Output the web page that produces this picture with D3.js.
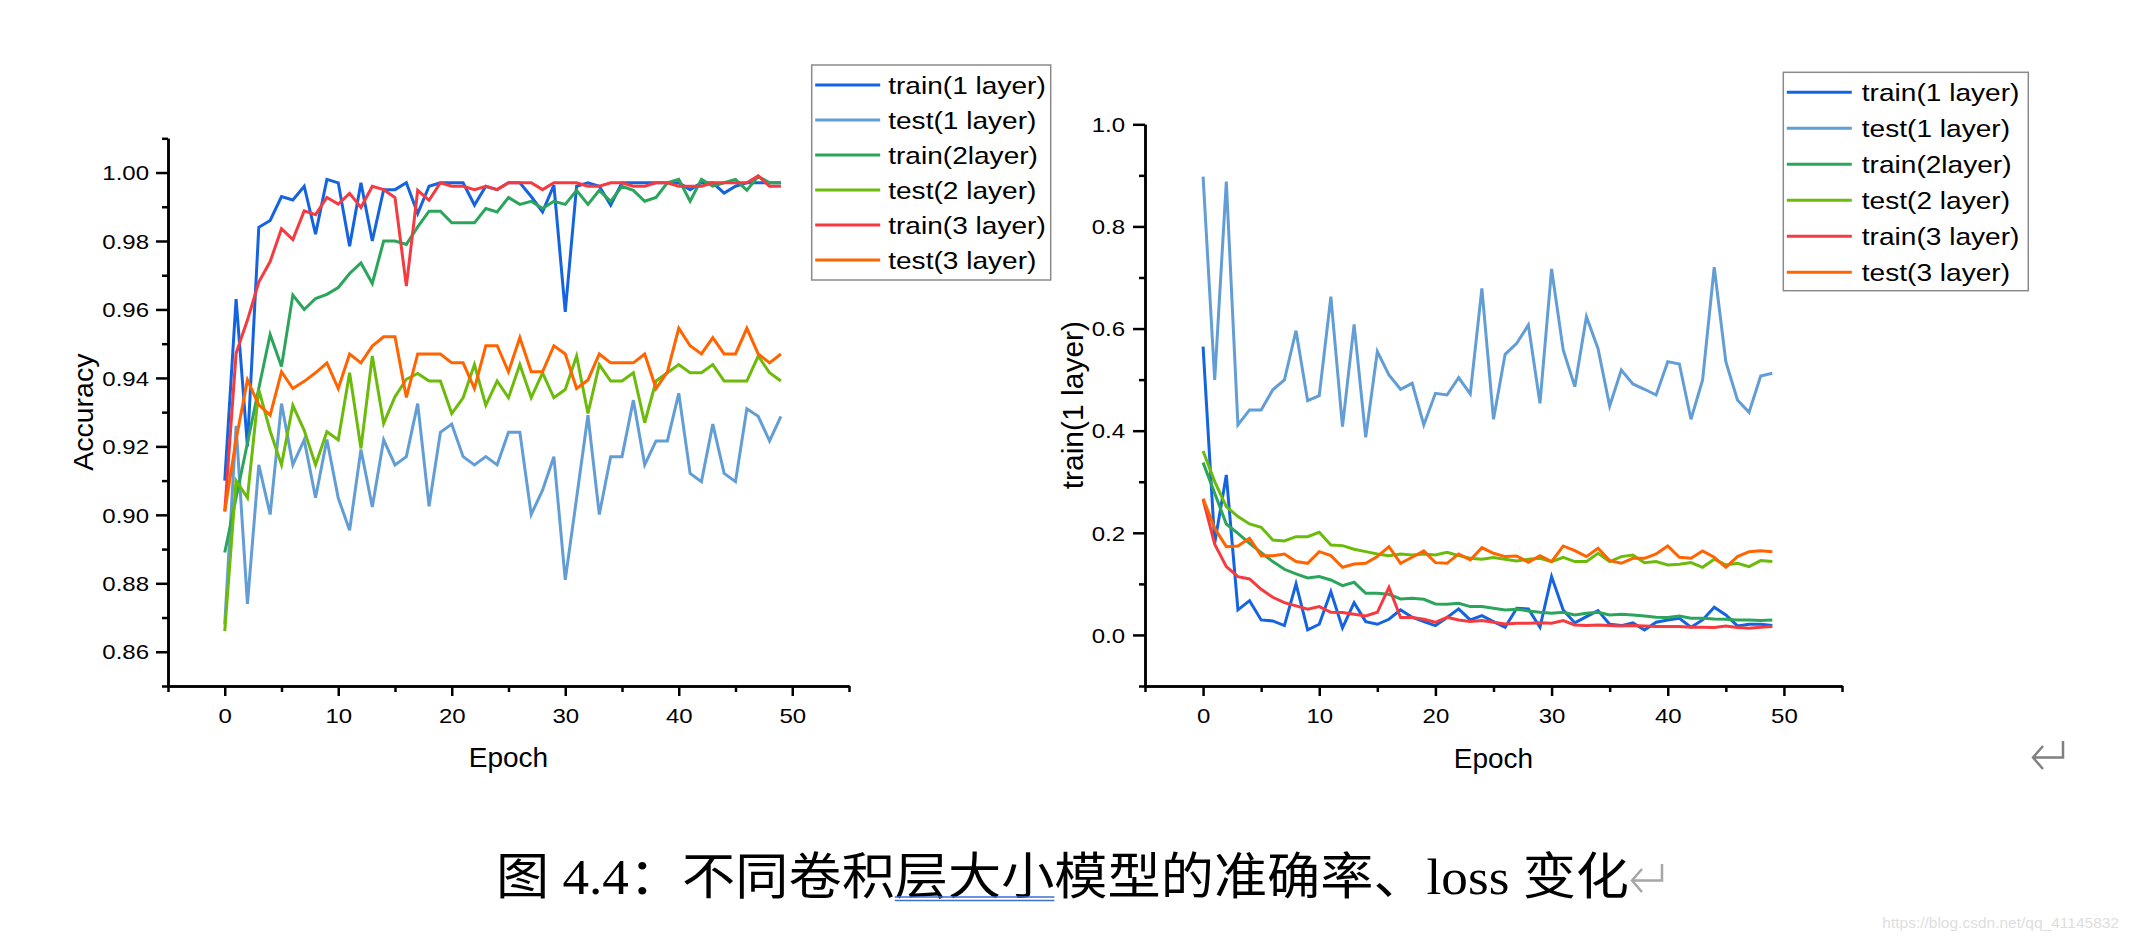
<!DOCTYPE html>
<html>
<head>
<meta charset="utf-8">
<script src="https://cdn.jsdelivr.net/npm/d3@7"></script>
<style>
	body { margin: 0; background: #fff; }
	svg { display: block; }
</style>
</head>
<body>
<div id="figure"></div>
<script>
// Epochs (x values)
var epochs = [
	0, 1, 2, 3, 4, 5, 6, 7, 8, 9,
	10, 11, 12, 13, 14, 15, 16, 17, 18, 19,
	20, 21, 22, 23, 24, 25, 26, 27, 28, 29,
	30, 31, 32, 33, 34, 35, 36, 37, 38, 39,
	40, 41, 42, 43, 44, 45, 46, 47, 48, 49
];

var seriesNames = ['train(1 layer)', 'test(1 layer)', 'train(2layer)', 'test(2 layer)', 'train(3 layer)', 'test(3 layer)'];

// Accuracy (left panel)
var accTrain1 = [
	0.910, 0.963, 0.920, 0.984, 0.986, 0.993, 0.992, 0.996, 0.982, 0.998,
	0.997, 0.9785, 0.997, 0.980, 0.995, 0.995, 0.997, 0.988, 0.996, 0.997,
	0.997, 0.997, 0.9905, 0.996, 0.995, 0.997, 0.997, 0.993, 0.9885, 0.9963,
	0.9593, 0.996, 0.997, 0.996, 0.9905, 0.997, 0.997, 0.997, 0.997, 0.997,
	0.997, 0.995, 0.997, 0.997, 0.994, 0.996, 0.997, 0.997, 0.997, 0.997
];
var accTest1 = [
	0.868, 0.926, 0.874, 0.9146, 0.9001, 0.9325, 0.9146, 0.9219, 0.905, 0.922,
	0.9049, 0.8955, 0.9191, 0.9023, 0.9219, 0.9146, 0.917, 0.9325, 0.9025, 0.9241,
	0.9265, 0.917, 0.9146, 0.917, 0.9146, 0.9241, 0.9241, 0.9001, 0.9072, 0.917,
	0.881, 0.9049, 0.9291, 0.9001, 0.917, 0.917, 0.9335, 0.9146, 0.9216, 0.9216,
	0.9355, 0.9121, 0.9097, 0.9265, 0.9121, 0.9097, 0.931, 0.9288, 0.9216, 0.9288
];
var accTrain2 = [
	0.889, 0.905, 0.921, 0.937, 0.9527, 0.9433, 0.9642, 0.960, 0.9632, 0.9644,
	0.9664, 0.9705, 0.9736, 0.9676, 0.980, 0.980, 0.979, 0.9841, 0.9887, 0.9887,
	0.9853, 0.9853, 0.9853, 0.9895, 0.9885, 0.9927, 0.9907, 0.9916, 0.9895, 0.9916,
	0.9907, 0.9948, 0.9907, 0.9948, 0.9916, 0.996, 0.9948, 0.9916, 0.9927, 0.997,
	0.998, 0.9916, 0.998, 0.996, 0.997, 0.998, 0.9948, 0.9989, 0.997, 0.997
];
var accTest2 = [
	0.866, 0.910, 0.905, 0.9366, 0.9245, 0.9146, 0.932, 0.9247, 0.9146, 0.9243,
	0.9219, 0.9415, 0.9194, 0.9464, 0.9267, 0.9345, 0.9396, 0.9413, 0.9391, 0.9391,
	0.9296, 0.9342, 0.9439, 0.932, 0.9391, 0.9342, 0.9439, 0.9342, 0.9415, 0.9342,
	0.9366, 0.9464, 0.9296, 0.9439, 0.9391, 0.9391, 0.9415, 0.9269, 0.9391, 0.9415,
	0.9439, 0.9415, 0.9415, 0.9439, 0.9391, 0.9391, 0.9391, 0.9464, 0.9415, 0.9391
];
var accTrain3 = [
	0.901, 0.9472, 0.9569, 0.968, 0.974, 0.9836, 0.9804, 0.9888, 0.9877, 0.9927,
	0.9908, 0.9939, 0.9898, 0.996, 0.995, 0.9927, 0.9668, 0.9948, 0.9919, 0.997,
	0.996, 0.996, 0.995, 0.996, 0.995, 0.997, 0.997, 0.997, 0.995, 0.997,
	0.997, 0.997, 0.996, 0.996, 0.997, 0.997, 0.996, 0.996, 0.997, 0.997,
	0.996, 0.996, 0.996, 0.997, 0.997, 0.997, 0.997, 0.999, 0.996, 0.996
];
var accTest3 = [
	0.901, 0.922, 0.9394, 0.9321, 0.9291, 0.9418, 0.9369, 0.939, 0.9415, 0.9444,
	0.9369, 0.947, 0.9444, 0.9493, 0.952, 0.952, 0.9343, 0.947, 0.947, 0.947,
	0.9444, 0.9444, 0.9369, 0.9494, 0.9494, 0.9418, 0.9518, 0.9418, 0.9418, 0.9494,
	0.947, 0.9369, 0.9394, 0.947, 0.9444, 0.9444, 0.9444, 0.947, 0.9369, 0.9418,
	0.9545, 0.9494, 0.947, 0.9518, 0.947, 0.947, 0.9545, 0.947, 0.9444, 0.947
];

// Loss (right panel)
var lossTrain1 = [
	0.5645, 0.1795, 0.3133, 0.049, 0.0672, 0.0294, 0.0274, 0.0183, 0.0999, 0.0098,
	0.0209, 0.0848, 0.0137, 0.0633, 0.0261, 0.0209, 0.0307, 0.049, 0.0346, 0.0261,
	0.0183, 0.034, 0.051, 0.0294, 0.0378, 0.0261, 0.015, 0.0523, 0.051, 0.015,
	0.1142, 0.049, 0.0235, 0.0359, 0.0477, 0.0209, 0.0183, 0.0235, 0.0098, 0.0248,
	0.0294, 0.0327, 0.015, 0.0294, 0.0542, 0.0392, 0.0176, 0.0209, 0.0209, 0.0183
];
var lossTest1 = [
	0.8975, 0.4993, 0.8877, 0.4112, 0.4406, 0.4406, 0.48, 0.4993, 0.5959, 0.4588,
	0.4686, 0.6624, 0.4079, 0.6083, 0.3871, 0.5548, 0.5091, 0.4811, 0.4928, 0.4112,
	0.4732, 0.4699, 0.5038, 0.4719, 0.6788, 0.4223, 0.5496, 0.5711, 0.607, 0.4537,
	0.7167, 0.558, 0.4862, 0.6233, 0.5606, 0.4484, 0.5189, 0.4915, 0.4811, 0.4699,
	0.5352, 0.5307, 0.4223, 0.4993, 0.72, 0.5352, 0.4602, 0.436, 0.5071, 0.5124
];
var lossTrain2 = [
	0.3374, 0.2774, 0.2173, 0.199, 0.1795, 0.1612, 0.1436, 0.1286, 0.1194, 0.1116,
	0.1142, 0.1077, 0.0966, 0.1031, 0.0816, 0.0816, 0.0796, 0.0705, 0.0718, 0.0698,
	0.0607, 0.06, 0.062, 0.0555, 0.0555, 0.0523, 0.049, 0.0503, 0.047, 0.0444,
	0.0425, 0.0444, 0.0392, 0.0425, 0.0444, 0.0392, 0.0405, 0.0392, 0.0372, 0.0346,
	0.034, 0.0372, 0.0327, 0.0327, 0.0313, 0.0307, 0.0294, 0.0294, 0.0281, 0.0294
];
var lossTest2 = [
	0.3603, 0.3002, 0.2513, 0.2317, 0.2173, 0.2108, 0.186, 0.184, 0.1925, 0.1925,
	0.201, 0.1762, 0.1749, 0.1677, 0.1631, 0.1586, 0.1553, 0.1586, 0.1566, 0.1586,
	0.1566, 0.1618, 0.1553, 0.1501, 0.1482, 0.1514, 0.1482, 0.1449, 0.1482, 0.1501,
	0.1436, 0.1521, 0.1436, 0.1436, 0.1599, 0.1436, 0.1534, 0.1566, 0.1416, 0.1436,
	0.1371, 0.1384, 0.1416, 0.1325, 0.1482, 0.1371, 0.1403, 0.1338, 0.1456, 0.1436
];
var lossTrain3 = [
	0.2657, 0.1776, 0.1338, 0.1142, 0.1097, 0.0894, 0.0737, 0.0633, 0.0568, 0.0503,
	0.0555, 0.0444, 0.0438, 0.0405, 0.0372, 0.0444, 0.0933, 0.034, 0.034, 0.0307,
	0.0248, 0.0346, 0.0294, 0.0261, 0.0281, 0.0248, 0.0215, 0.0228, 0.0228, 0.0241,
	0.0228, 0.0281, 0.0196, 0.0183, 0.0196, 0.0183, 0.0176, 0.0183, 0.0176, 0.0163,
	0.0163, 0.0163, 0.015, 0.015, 0.0144, 0.0176, 0.0144, 0.013, 0.015, 0.0163
];
var lossTest3 = [
	0.267, 0.2089, 0.1729, 0.1742, 0.1893, 0.1553, 0.1553, 0.1586, 0.1436, 0.1403,
	0.1631, 0.1553, 0.1325, 0.139, 0.1403, 0.1534, 0.1729, 0.1403, 0.1521, 0.1645,
	0.1416, 0.1403, 0.1586, 0.1469, 0.171, 0.1599, 0.1534, 0.1547, 0.1423, 0.1553,
	0.1436, 0.1742, 0.165, 0.1534, 0.1697, 0.1456, 0.1403, 0.1501, 0.1501, 0.1586,
	0.1742, 0.1521, 0.1501, 0.1645, 0.1521, 0.1325, 0.1534, 0.1631, 0.165, 0.1631
];

// Tick values
var epochTicks = [0, 10, 20, 30, 40, 50];
var epochMinor = [-5, 5, 15, 25, 35, 45, 55];
var accTicks = [0.86, 0.88, 0.90, 0.92, 0.94, 0.96, 0.98, 1.00];
var accMinor = [0.85, 0.87, 0.89, 0.91, 0.93, 0.95, 0.97, 0.99, 1.01];
var lossTicks = [0.0, 0.2, 0.4, 0.6, 0.8, 1.0];
var lossMinor = [-0.1, 0.1, 0.3, 0.5, 0.7, 0.9];

var captionText = '图 4.4：不同卷积层大小模型的准确率、loss 变化';
var sourceText = 'https://blog.csdn.net/qq_41145832';

var lineColors = ['#1464e1', '#629ed5', '#2ca55c', '#6cba0a', '#f53b40', '#ff6400'];
var fontSans = '"Liberation Sans", Arial, sans-serif';

var width = 2129;
var height = 941;

// Creates the SVG
var svg = d3.select('#figure')
			.append('svg')
			.attr('width', width)
			.attr('height', height);

svg.append('rect')
   .attr('width', width)
   .attr('height', height)
   .attr('fill', '#fff');

function styleAxis(g) {
	g.attr('font-family', fontSans).attr('font-size', 20);
	g.selectAll('path, line')
	 .attr('stroke', '#000')
	 .attr('stroke-width', 2.5);
}

function drawPanel(cfg) {
	var x_scale = d3.scaleLinear()
					.domain([-5, 55])
					.range([cfg.left, cfg.right]);
	var y_scale = d3.scaleLinear()
					.domain(cfg.yDomain)
					.range([cfg.bottom, cfg.top]);

	var g = svg.append('g');

	// Minor ticks
	g.append('g')
	 .attr('transform', 'translate(0,' + cfg.bottom + ')')
	 .call(d3.axisBottom(x_scale).tickValues(epochMinor).tickSize(6).tickSizeOuter(0).tickFormat(''))
	 .call(styleAxis);
	g.append('g')
	 .attr('transform', 'translate(' + cfg.left + ',0)')
	 .call(d3.axisLeft(y_scale).tickValues(cfg.yMinor).tickSize(6).tickSizeOuter(0).tickFormat(''))
	 .call(styleAxis);

	// The x-axis
	var xg = g.append('g')
			  .attr('transform', 'translate(0,' + cfg.bottom + ')')
			  .call(d3.axisBottom(x_scale).tickValues(epochTicks).tickSize(10).tickSizeOuter(0))
			  .call(styleAxis);
	xg.selectAll('text')
	  .attr('y', 0)
	  .attr('dy', null)
	  .attr('fill', '#000')
	  .attr('transform', 'translate(0,37) scale(1.2,1)');

	// The y-axis
	var yg = g.append('g')
			  .attr('transform', 'translate(' + cfg.left + ',0)')
			  .call(d3.axisLeft(y_scale).tickValues(cfg.yTicks).tickSize(12).tickSizeOuter(0).tickFormat(d3.format(cfg.yFormat)))
			  .call(styleAxis);
	yg.selectAll('text')
	  .attr('x', 0)
	  .attr('dy', '0.36em')
	  .attr('fill', '#000')
	  .attr('transform', 'translate(' + cfg.labelGap + ',0) scale(1.2,1)');

	// Axis titles
	g.append('text')
	 .text('Epoch')
	 .attr('x', (cfg.left + cfg.right) / 2)
	 .attr('y', cfg.xTitleY)
	 .attr('text-anchor', 'middle')
	 .attr('font-family', fontSans)
	 .attr('font-size', 28);
	g.append('text')
	 .text(cfg.yTitle)
	 .attr('transform', 'translate(' + cfg.yTitleX + ',' + (cfg.top + cfg.bottom) / 2 + ') rotate(-90)')
	 .attr('text-anchor', 'middle')
	 .attr('font-family', fontSans)
	 .attr('font-size', cfg.yTitleSize);

	// Creates lines
	var line = d3.line()
				 .x(function(d, i){
					 return x_scale(epochs[i]);
				 })
				 .y(function(d){
					 return y_scale(d);
				 });

	g.append('g').selectAll('path')
	 .data(cfg.series)
	 .enter()
	 .append('path')
	 .attr('d', function(d){
		 return line(d);
	 })
	 .attr('fill', 'none')
	 .attr('stroke', function(d, i){
		 return lineColors[i];
	 })
	 .attr('stroke-width', 3);

	// Legend
	var lg = g.append('g').attr('transform', 'translate(' + cfg.legend.x + ',' + cfg.legend.y + ')');
	lg.append('rect')
	  .attr('width', cfg.legend.w)
	  .attr('height', cfg.legend.h)
	  .attr('fill', '#fff')
	  .attr('stroke', '#8a8a8a')
	  .attr('stroke-width', 1.5);
	var rows = lg.selectAll('g')
				 .data(seriesNames)
				 .enter()
				 .append('g')
				 .attr('transform', function(d, i){
					 return 'translate(0,' + (20 + i * cfg.legend.step) + ')';
				 });
	rows.append('line')
		.attr('x1', 3.5)
		.attr('x2', 68.5)
		.attr('stroke', function(d, i){
			return lineColors[i];
		})
		.attr('stroke-width', 3);
	rows.append('text')
		.text(function(d){
			return d;
		})
		.attr('transform', 'translate(' + cfg.legend.textX + ',8.5) scale(1.17,1)')
		.attr('font-family', fontSans)
		.attr('font-size', 24);
}

drawPanel({
	left: 168, right: 849, top: 138.3, bottom: 686,
	yDomain: [0.85, 1.01], yTicks: accTicks, yMinor: accMinor, yFormat: '.2f',
	labelGap: -19, yTitle: 'Accuracy', yTitleX: 93, yTitleSize: 28.5, xTitleY: 767,
	series: [accTrain1, accTest1, accTrain2, accTest2, accTrain3, accTest3],
	legend: { x: 811.7, y: 65, w: 239, h: 215, step: 35, textX: 76.5 }
});

drawPanel({
	left: 1145, right: 1842, top: 124.3, bottom: 686,
	yDomain: [-0.1, 1.0], yTicks: lossTicks, yMinor: lossMinor, yFormat: '.1f',
	labelGap: -20, yTitle: 'train(1 layer)', yTitleX: 1083, yTitleSize: 30, xTitleY: 768,
	series: [lossTrain1, lossTest1, lossTrain2, lossTest2, lossTrain3, lossTest3],
	legend: { x: 1783.3, y: 72.3, w: 245, h: 218.4, step: 36, textX: 78.5 }
});

// Caption
var caption = svg.append('text')
				 .text(captionText)
				 .attr('x', 496)
				 .attr('y', 894)
				 .attr('font-family', '"Liberation Serif", "Noto Sans CJK SC", serif')
				 .attr('font-size', 50)
				 .attr('textLength', 1133)
				 .attr('lengthAdjust', 'spacingAndGlyphs')
				 .attr('fill', '#000');

// Double underline under 层大小
var cNode = caption.node();
var uStart = cNode.getStartPositionOfChar(10).x;
var uEnd = cNode.getEndPositionOfChar(12).x;
svg.append('g').selectAll('line')
   .data([897, 900.5])
   .enter()
   .append('line')
   .attr('x1', uStart)
   .attr('x2', uEnd)
   .attr('y1', function(d){ return d; })
   .attr('y2', function(d){ return d; })
   .attr('stroke', '#3b6fd0')
   .attr('stroke-width', 1.3);

// Paragraph marks
function returnMark(x0, y0, color) {
	svg.append('path')
	   .attr('d', 'M' + (x0 + 30) + ',' + y0 + 'V' + (y0 + 16.5) + 'H' + x0 +
			 'M' + (x0 + 10) + ',' + (y0 + 5) + 'L' + x0 + ',' + (y0 + 16.5) + 'L' + (x0 + 10) + ',' + (y0 + 28))
	   .attr('fill', 'none')
	   .attr('stroke', color)
	   .attr('stroke-width', 2.5);
}
returnMark(1632, 864, '#a6a6a6');
returnMark(2033, 741, '#808080');

// Source watermark
svg.append('text')
   .text(sourceText)
   .attr('x', 2119)
   .attr('y', 928)
   .attr('text-anchor', 'end')
   .attr('font-family', fontSans)
   .attr('font-size', 15.5)
   .attr('fill', '#dedede');
</script>
</body>
</html>
